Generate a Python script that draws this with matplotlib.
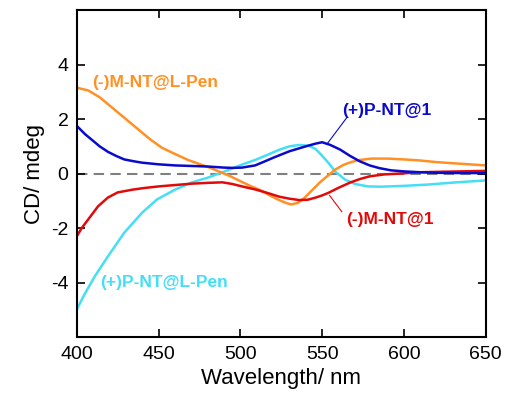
import numpy as np
import matplotlib.pyplot as plt

plt.rcParams['font.family'] = ['Liberation Sans', 'DejaVu Sans']
plt.rcParams['axes.unicode_minus'] = False

# wavelength / CD values
wl_mpen = [400, 407, 414, 422, 430, 438, 445, 452, 460, 468, 475, 482, 488, 494, 500, 506, 512, 518, 524, 528, 531, 535, 539, 544, 549, 554, 558, 563, 568, 573, 580, 590, 600, 610, 620, 630, 640, 650]
cd_mpen = [3.15, 3.05, 2.8, 2.4, 2.0, 1.6, 1.25, 0.95, 0.72, 0.5, 0.35, 0.2, 0.05, -0.1, -0.28, -0.45, -0.6, -0.8, -0.98, -1.08, -1.13, -1.08, -0.9, -0.6, -0.3, -0.05, 0.15, 0.32, 0.43, 0.5, 0.55, 0.55, 0.52, 0.48, 0.42, 0.38, 0.34, 0.3]

wl_p1 = [400, 405, 410, 414, 419, 424, 429, 435, 440, 450, 460, 470, 480, 490, 495, 501, 509, 515, 520, 530, 540, 546, 550, 555, 561, 567, 573, 579, 585, 592, 600, 610, 620, 635, 650]
cd_p1 = [1.75, 1.45, 1.2, 1.0, 0.8, 0.65, 0.52, 0.45, 0.4, 0.34, 0.3, 0.28, 0.26, 0.22, 0.21, 0.22, 0.3, 0.45, 0.58, 0.82, 1.0, 1.1, 1.15, 1.05, 0.88, 0.65, 0.45, 0.3, 0.2, 0.12, 0.08, 0.05, 0.03, 0.02, 0.02]

wl_ppen = [400, 405, 411, 419, 429, 440, 449, 460, 470, 480, 490, 501, 509, 517, 524, 530, 536, 542, 546, 550, 554, 558, 564, 570, 578, 586, 600, 615, 630, 650]
cd_ppen = [-4.98, -4.4, -3.77, -3.04, -2.17, -1.43, -0.95, -0.59, -0.33, -0.15, 0.07, 0.33, 0.5, 0.7, 0.88, 1.0, 1.05, 1.02, 0.9, 0.65, 0.38, 0.07, -0.22, -0.38, -0.47, -0.48, -0.45, -0.4, -0.33, -0.25]

wl_m1 = [400, 403, 407, 413, 419, 425, 434, 441, 450, 460, 470, 480, 489, 495, 501, 509, 516, 524, 530, 536, 541, 546, 550, 554, 560, 567, 573, 579, 588, 597, 610, 625, 650]
cd_m1 = [-2.3, -2.0, -1.68, -1.2, -0.88, -0.69, -0.59, -0.53, -0.47, -0.42, -0.37, -0.34, -0.32, -0.38, -0.47, -0.58, -0.7, -0.85, -0.92, -0.97, -0.96, -0.88, -0.8, -0.7, -0.52, -0.33, -0.2, -0.1, -0.03, 0.0, 0.05, 0.07, 0.1]

c_mpen = '#ff9124'
c_p1 = '#0a0acc'
c_ppen = '#45def5'
c_m1 = '#e00a0a'

fig = plt.figure(figsize=(5.05, 4.0), dpi=100)
ax = fig.add_axes([0.152, 0.157, 0.81, 0.818])

ax.axhline(0, color='gray', ls=(0, (5, 3)), lw=1.5, zorder=1)
ax.plot(wl_ppen, cd_ppen, color=c_ppen, lw=1.8)
ax.plot(wl_mpen, cd_mpen, color=c_mpen, lw=1.8)
ax.plot(wl_m1, cd_m1, color=c_m1, lw=1.8)
ax.plot(wl_p1, cd_p1, color=c_p1, lw=1.8)

ax.set_xlim(400, 650)
ax.set_ylim(-6, 6)
ax.set_xticks([400, 450, 500, 550, 600, 650])
ax.set_yticks([-4, -2, 0, 2, 4])
ax.tick_params(direction='in', top=True, right=True, length=6, width=1.2, labelsize=14, pad=6)
for s in ax.spines.values():
    s.set_linewidth(1.5)

ax.set_xlabel('Wavelength/ nm', fontsize=16)
ax.set_ylabel('CD/ mdeg', fontsize=16)

ax.text(409.5, 3.35, '(-)M-NT@L-Pen', color=c_mpen, fontsize=12.5, fontweight='bold', va='center')
ax.text(562, 2.3, '(+)P-NT@1', color=c_p1, fontsize=12.5, fontweight='bold', va='center')
ax.plot([553.5, 565], [1.13, 2.05], color=c_p1, lw=0.8)
ax.text(564.5, -1.7, '(-)M-NT@1', color=c_m1, fontsize=12.5, fontweight='bold', va='center')
ax.plot([554.5, 562], [-0.8, -1.4], color=c_m1, lw=0.8)
ax.text(414, -4.0, '(+)P-NT@L-Pen', color=c_ppen, fontsize=12.5, fontweight='bold', va='center')

fig.savefig('out.png', dpi=100)
